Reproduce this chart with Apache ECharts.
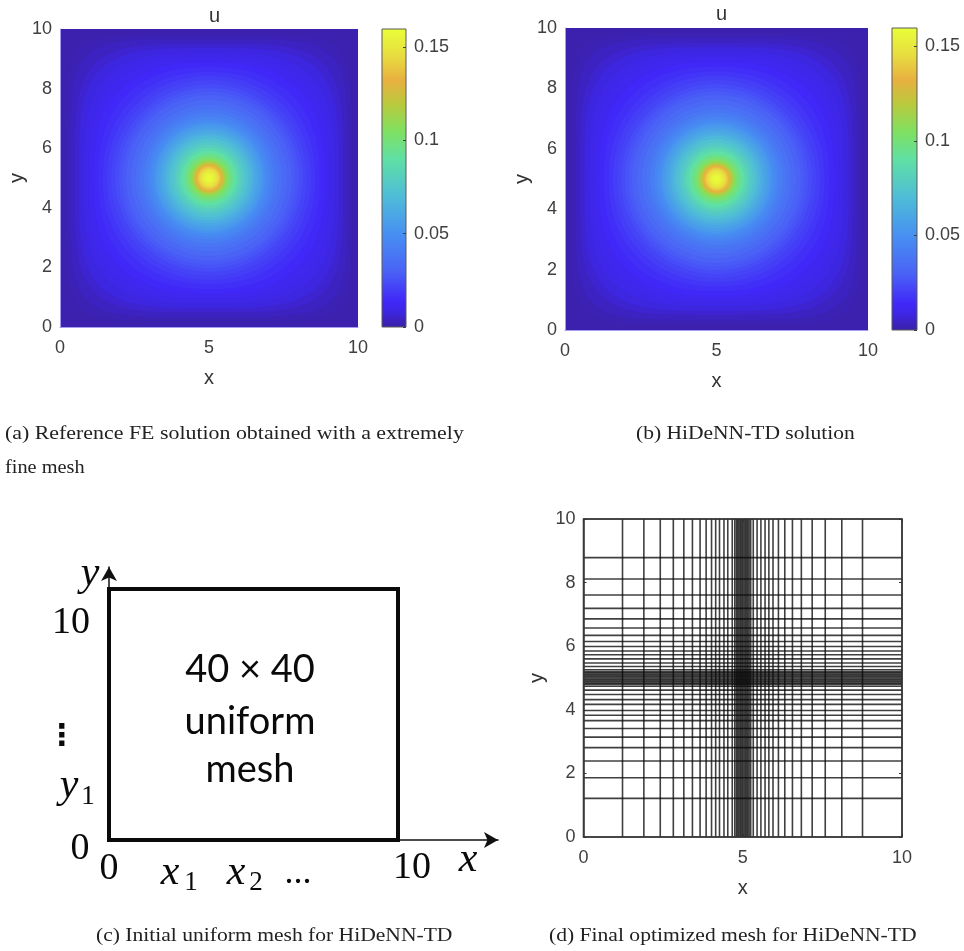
<!DOCTYPE html>
<html><head><meta charset="utf-8">
<script src="https://cdn.jsdelivr.net/npm/echarts@6/dist/echarts.min.js"></script>
<style>html,body{margin:0;padding:0;background:#fff}#c{width:964px;height:951px;filter:blur(0.45px)}</style>
</head><body><div id="c"></div>
<script>
// colour scale
const colorbarStops = [0, 0.004, 0.008, 0.014, 0.03, 0.05, 0.07, 0.09, 0.105, 0.12, 0.132, 0.145, 0.1597];
const colorbarColors = ['#3a20a8','#3c22c0','#3d26e0','#4028f8','#4a62f6','#4790f2','#4fbcd8','#5fe0a4','#80e060','#bcc83c','#e8b040','#e8dc40','#e8ff38'];
const colorbarMax = 0.1597;
const colorbarTicks = [0, 0.05, 0.1, 0.15];

// iso-level of u, its radius along the x/y axes, its half-width along the diagonal
const uFloor = 0.001;
const uLevels = [0.002,0.004,0.006,0.008,0.010,0.012,0.014,0.016,0.018,0.020,0.022,0.024,0.026,0.028,0.030,0.033,0.036,0.039,0.042,0.045,0.048,0.051,0.054,0.057,0.060,0.064,0.068,0.072,0.076,0.080,0.085,0.090,0.095,0.100,0.105,0.110,0.115,0.120,0.125,0.130,0.135,0.140,0.145,0.150,0.155,0.158];
const uAxisRadius = [4.80,4.66,4.50,4.36,4.20,4.04,3.88,3.72,3.56,3.42,3.28,3.15,3.02,2.90,2.78,2.62,2.46,2.31,2.18,2.06,1.96,1.87,1.79,1.71,1.62,1.52,1.43,1.33,1.22,1.12,1.02,0.92,0.82,0.73,0.65,0.60,0.55,0.51,0.48,0.45,0.41,0.37,0.32,0.26,0.18,0.10];
const uDiagonal = [4.35,4.10,3.84,3.64,3.42,3.20,2.98,2.78,2.60,2.46,2.34,2.23,2.14,2.05,1.97,1.85,1.74,1.63,1.54,1.46,1.39,1.32,1.27,1.21,1.15,1.08,1.01,0.94,0.86,0.79,0.72,0.65,0.58,0.52,0.46,0.42,0.39,0.36,0.34,0.32,0.29,0.26,0.23,0.18,0.13,0.07];

// mesh line positions of panel (d)
const meshX = [0,1.225,1.895,2.41,2.82,3.15,3.42,3.66,3.85,4.02,4.15,4.27,4.41,4.53,4.67,4.75,4.80,4.84,4.88,4.92,4.96,5,5.04,5.08,5.12,5.16,5.20,5.25,5.33,5.45,5.57,5.70,5.82,5.95,6.12,6.32,6.56,6.84,7.18,7.59,8.11,8.76,10];
const meshY = [0,1.215,1.865,2.39,2.81,3.14,3.41,3.66,3.83,3.98,4.17,4.32,4.48,4.62,4.74,4.80,4.84,4.88,4.92,4.96,5,5.04,5.08,5.12,5.16,5.20,5.26,5.36,5.47,5.60,5.73,5.85,5.99,6.15,6.34,6.57,6.86,7.19,7.61,8.115,8.785,10];

const tickFont = 'Liberation Sans';
const tickColor = '#404040';

function uColor(v){
  for(let i=1;i<colorbarStops.length;i++){
    if(v<=colorbarStops[i]){
      const t=(v-colorbarStops[i-1])/(colorbarStops[i]-colorbarStops[i-1]);
      return echarts.color.lerp(t,[colorbarColors[i-1],colorbarColors[i]]);
    }
  }
  return colorbarColors[colorbarColors.length-1];
}
const contourRows = uLevels.map((l,i)=>[l,uAxisRadius[i],uDiagonal[i]]);

function renderContour(params,api){
  const level=api.value(0),R=api.value(1),d=api.value(2);
  const p=Math.LN2/Math.log(R/d);
  const pts=[];
  for(let k=0;k<120;k++){
    const a=k/120*2*Math.PI,c=Math.cos(a),s=Math.sin(a);
    const r=R/Math.pow(Math.pow(Math.abs(c),p)+Math.pow(Math.abs(s),p),1/p);
    pts.push(api.coord([5+r*c,5+r*s]));
  }
  return {type:'polygon',shape:{points:pts},style:{fill:uColor(level)}};
}
function renderBar(params,api){
  const a=api.coord([0,0]),b=api.coord([1,colorbarMax]);
  return {type:'rect',shape:{x:a[0],y:b[1],width:b[0]-a[0],height:a[1]-b[1]},
    style:{fill:{type:'linear',x:0,y:1,x2:0,y2:0,colorStops:colorbarStops.map((s,i)=>({offset:s/colorbarMax,color:colorbarColors[i]}))},stroke:'#5a5a5a',lineWidth:1}};
}
function meshLine(vertical){
  return function(params,api){
    const v=api.value(0);
    const a=api.coord(vertical?[v,0]:[0,v]),b=api.coord(vertical?[v,10]:[10,v]);
    return {type:'line',shape:{x1:a[0],y1:a[1],x2:b[0],y2:b[1]},style:{stroke:'rgba(10,10,10,0.78)',lineWidth:1.6}};
  };
}
const labelStyle={fontFamily:tickFont,fontSize:18,color:tickColor};
const nameStyle={fontFamily:tickFont,fontSize:20,color:'#333'};

const grids=[
 {left:60,top:29,width:298,height:298,show:true,borderWidth:0,backgroundColor:uColor(uFloor)},
 {left:382,top:29,width:24,height:298},
 {left:565,top:28,width:303,height:302,show:true,borderWidth:0,backgroundColor:uColor(uFloor)},
 {left:892,top:28,width:25,height:302},
 {left:583.5,top:519,width:318.5,height:318},
 {left:109,top:567,width:389,height:273}
];
function fieldAxes(g,gap){
  return {
   x:{type:'value',gridIndex:g,min:0,max:10,interval:5,z:5,name:'x',nameLocation:'middle',nameGap:gap,nameTextStyle:nameStyle,
      axisLine:{show:true,onZero:false,lineStyle:{color:'#a49cf4',width:1}},axisTick:{show:false},splitLine:{show:false},axisLabel:{...labelStyle,margin:12}},
   y:{type:'value',gridIndex:g,min:0,max:10,interval:2,z:5,name:'y',nameLocation:'middle',nameGap:33,nameTextStyle:nameStyle,
      axisLine:{show:true,onZero:false,lineStyle:{color:'#a49cf4',width:1}},axisTick:{show:false},splitLine:{show:false},axisLabel:{...labelStyle,margin:8}}
  };
}
const fa=fieldAxes(0,41), fb=fieldAxes(2,41);
function barAxes(g){
  return {
   x:{type:'value',gridIndex:g,min:0,max:1,show:false},
   y:{type:'value',gridIndex:g,min:0,max:colorbarMax,position:'right',z:5,splitLine:{show:false},
      axisLine:{show:false,onZero:false},
      axisTick:{show:true,inside:true,length:3,customValues:colorbarTicks,lineStyle:{color:'#404040'}},
      axisLabel:{...labelStyle,margin:8,customValues:colorbarTicks,formatter:v=>String(v)}}
  };
}
const ba=barAxes(1), bb=barAxes(3);
const meshAxis={axisLine:{show:true,onZero:false,lineStyle:{color:'#3a3a3a',width:1.5}},splitLine:{show:false},axisTick:{show:true,inside:true,length:3,lineStyle:{color:'#333'}}};

const xAxes=[fa.x,ba.x,fb.x,bb.x,
 {type:'value',gridIndex:4,min:0,max:10,interval:5,z:5,name:'x',nameLocation:'middle',nameGap:41,nameTextStyle:nameStyle,...meshAxis,axisLabel:{...labelStyle,margin:12}},
 {type:'value',gridIndex:4,min:0,max:10,interval:5,z:5,position:'top',...meshAxis,axisLabel:{show:false}},
 {type:'value',gridIndex:5,min:0,max:13.46,splitLine:{show:false},axisTick:{show:false},axisLabel:{show:false},
  axisLine:{show:true,onZero:false,symbol:['none','arrow'],symbolSize:[12,14],lineStyle:{color:'#111',width:1.5}}}];
const yAxes=[fa.y,ba.y,fb.y,bb.y,
 {type:'value',gridIndex:4,min:0,max:10,interval:2,z:5,name:'y',nameLocation:'middle',nameGap:36,nameTextStyle:nameStyle,...meshAxis,axisLabel:{...labelStyle,margin:8}},
 {type:'value',gridIndex:4,min:0,max:10,interval:2,z:5,position:'right',...meshAxis,axisLabel:{show:false}},
 {type:'value',gridIndex:5,min:0,max:10.88,splitLine:{show:false},axisTick:{show:false},axisLabel:{show:false},
  axisLine:{show:true,onZero:false,symbol:['none','arrow'],symbolSize:[12,14],lineStyle:{color:'#111',width:1.5}}}];

const domainRect=[[0,0,10,10]];
const series=[
 {type:'custom',name:'Reference FE',xAxisIndex:0,yAxisIndex:0,data:contourRows,renderItem:renderContour,clip:true,silent:true},
 {type:'custom',name:'Colour bar a',xAxisIndex:1,yAxisIndex:1,data:[[0]],renderItem:renderBar,clip:false,silent:true},
 {type:'custom',name:'HiDeNN-TD',xAxisIndex:2,yAxisIndex:2,data:contourRows,renderItem:renderContour,clip:true,silent:true},
 {type:'custom',name:'Colour bar b',xAxisIndex:3,yAxisIndex:3,data:[[0]],renderItem:renderBar,clip:false,silent:true},
 {type:'custom',name:'Mesh x',xAxisIndex:4,yAxisIndex:4,data:meshX.map(v=>[v]),renderItem:meshLine(true),clip:false,silent:true},
 {type:'custom',name:'Mesh y',xAxisIndex:4,yAxisIndex:4,data:meshY.map(v=>[v]),renderItem:meshLine(false),clip:false,silent:true},
 {type:'custom',name:'Uniform domain',xAxisIndex:6,yAxisIndex:6,data:domainRect,clip:false,silent:true,renderItem(params,api){
   const a=api.coord([api.value(0),api.value(1)]),b=api.coord([api.value(2),api.value(3)]);
   return {type:'rect',shape:{x:a[0],y:b[1],width:b[0]-a[0],height:a[1]-b[1]},style:{fill:'none',stroke:'#0a0a0a',lineWidth:4}};
 }}
];

function txt(text,x,y,font,align,fill,sx){
  return {type:'text',x:x,y:y,scaleX:sx||1,silent:true,style:{text:text,font:font,textAlign:align||'left',textVerticalAlign:'middle',fill:fill||'#222'}};
}
const capFont='18.5px "Liberation Serif"';
const mathFont='italic 42px "Liberation Serif"';
const numFont='38px "Liberation Serif"';
const subFont='27px "Liberation Serif"';
const meshFont='38px Lato';
const ink='#0a0a0a';
const graphics=[
 txt('(a) Reference FE solution obtained with a extremely',5,434,capFont,'left','#222',1.183),
 txt('fine mesh',5,468,capFont,'left','#222',1.10),
 txt('(b) HiDeNN-TD solution',636,434,capFont,'left','#222',1.163),
 txt('(c) Initial uniform mesh for HiDeNN-TD',96,936,capFont,'left','#222',1.166),
 txt('(d) Final optimized mesh for HiDeNN-TD',549,936,capFont,'left','#222',1.167),
 txt('40 × 40',250,670,meshFont,'center',ink),
 txt('uniform',250,722,meshFont,'center',ink),
 txt('mesh',250,770,meshFont,'center',ink),
 txt('y',90,574,mathFont,'center',ink),
 txt('10',71,623,numFont,'center',ink),
 txt('⋮',62,737,'bold 30px "DejaVu Sans"','center',ink),
 txt('y',69,786,mathFont,'center',ink),
 txt('1',88,797,subFont,'center',ink),
 txt('0',80,849,numFont,'center',ink),
 txt('0',109,869,numFont,'center',ink),
 txt('x',170,873,mathFont,'center',ink),
 txt('1',191,883,subFont,'center',ink),
 txt('x',236,873,mathFont,'center',ink),
 txt('2',256,883,subFont,'center',ink),
 txt('...',298,874,'36px "Liberation Serif"','center',ink),
 txt('10',412,868,numFont,'center',ink),
 txt('x',468,860,mathFont,'center',ink)
];
const chart=echarts.init(document.getElementById('c'),null,{renderer:'canvas'});
chart.setOption({
 animation:false,backgroundColor:'#fff',
 title:[
  {text:'u',left:204,top:1,textStyle:{fontFamily:tickFont,fontSize:20,fontWeight:'normal',color:'#333'}},
  {text:'u',left:711,top:-1,textStyle:{fontFamily:tickFont,fontSize:20,fontWeight:'normal',color:'#333'}}
 ],
 grid:grids,xAxis:xAxes,yAxis:yAxes,series:series,graphic:{elements:graphics}
});
</script></body></html>
